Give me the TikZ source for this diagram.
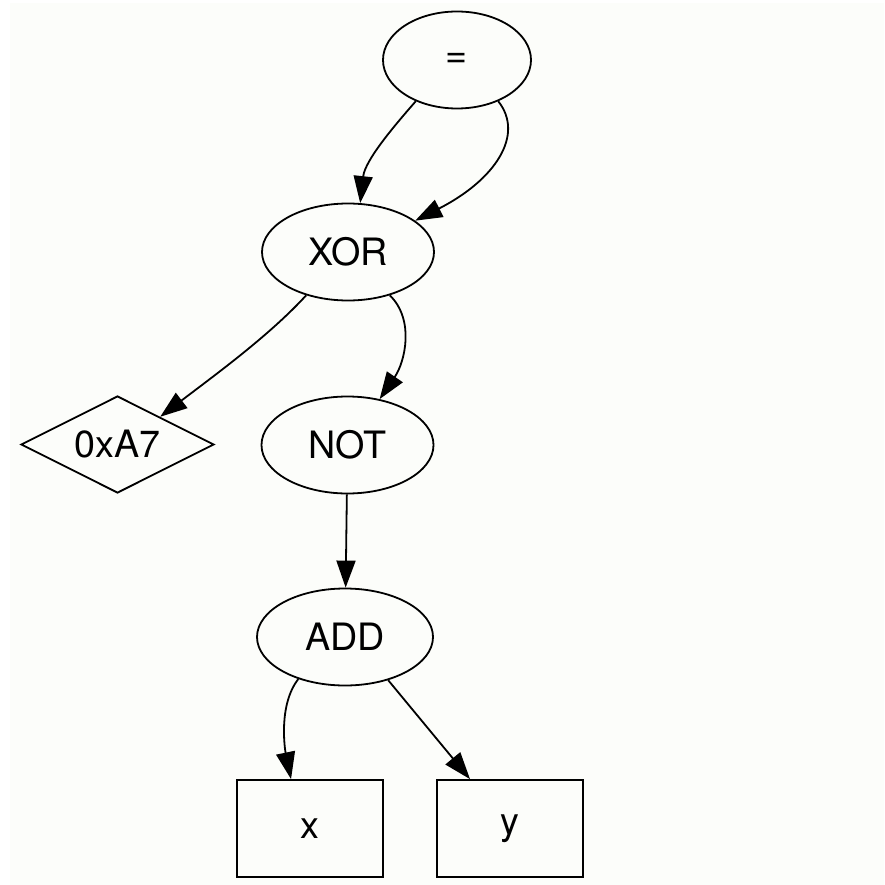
\documentclass[tikz,border=0pt]{standalone}
\usepackage{fontspec}
\setmainfont{TeX Gyre Heros}
\usetikzlibrary{shapes.geometric,arrows.meta}
\definecolor{bgcol}{RGB}{252,253,250}
\tikzset{
  base/.style={draw=black, line width=1.8pt, inner sep=0pt, font=\fontsize{37.7}{45}\selectfont, text=black},
  ell/.style={base, ellipse, minimum height=97pt},
  boxnode/.style={base, rectangle, minimum width=146pt, minimum height=97pt},
  dia/.style={base, diamond, aspect=2, minimum width=193pt, minimum height=97pt},
  arr/.style={line width=1.8pt, -{Triangle[length=27pt, width=19pt]}}
}
\begin{document}
\begin{tikzpicture}[x=1pt, y=-1pt]
\useasboundingbox (0,0) rectangle (884,885);
\fill[white] (0,0) rectangle (884,885);
\fill[bgcol] (10,3) rectangle (884,885);

\node[ell, minimum width=148pt] (eq) at (457,60) {=};
\node[ell, minimum width=172pt] (xor) at (348,252) {XOR};
\node[dia] (hex) at (117.5,444.5) {0xA7};
\node[ell, minimum width=172pt] (not) at (347.5,445) {NOT};
\node[ell, minimum width=176pt] (add) at (345,637) {ADD};
\node[boxnode] (xb) at (310,828.5) {x};
\node[boxnode] (yb) at (510,828.5) {y};

\draw[arr] (eq.225) .. controls (395,125) and (365,160) .. (xor.76);
\draw[arr] (eq.315) .. controls (525,135) and (495,180) .. (xor.25);
\draw[arr] (xor.226) .. controls (270,335) and (215,375) .. (hex.33);
\draw[arr] (xor.314) .. controls (415,320) and (405,362) .. (not.55);
\draw[arr] (not) -- (add);
\draw[arr] (add.222) .. controls (278,705) and (285,750) .. (xb.111);
\draw[arr] (add.315) -- (yb.129);
\end{tikzpicture}
\end{document}
